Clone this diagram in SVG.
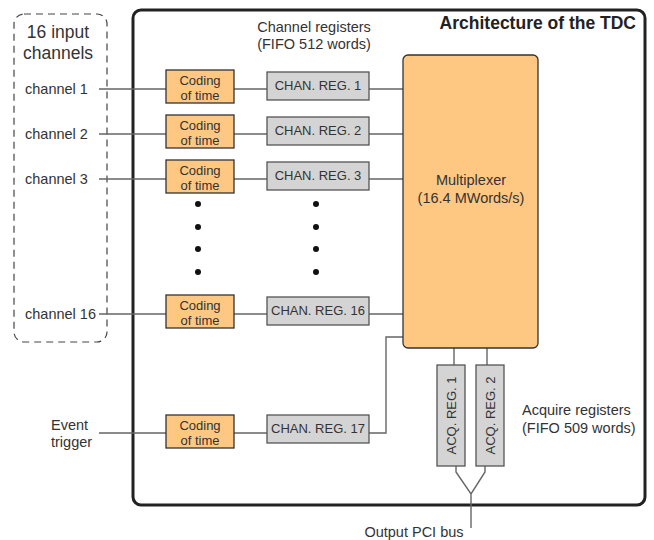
<svg xmlns="http://www.w3.org/2000/svg" width="654" height="540" viewBox="0 0 654 540">
<style>
text{font-family:"Liberation Sans",Arial,sans-serif;fill:#333}
.lbl{font-size:14.5px}
.sm{font-size:13px}
.code{fill:#FEC883;stroke:#333;stroke-width:1.3}
.reg{fill:#D4D4D4;stroke:#555;stroke-width:1.3}
.ln{fill:none;stroke:#666;stroke-width:1.4}
.dot{fill:#111}
</style>
<rect width="654" height="540" fill="#fff"/>
<g id="inputs-frame">
<rect x="14" y="14" width="93" height="328" rx="10" fill="none" stroke="#444" stroke-width="1.2" stroke-dasharray="7,5"/>
<text x="58" y="38" text-anchor="middle" style="font-size:17.5px">16 input</text>
<text x="58" y="59" text-anchor="middle" style="font-size:17.5px">channels</text>
</g>
<g id="tdc-frame">
<rect x="133" y="10" width="512" height="495" rx="8" fill="none" stroke="#222" stroke-width="3"/>
<text x="636" y="29" text-anchor="end" style="font-size:17.5px;font-weight:bold;fill:#222">Architecture of the TDC</text>
<text class="lbl" x="314" y="32" text-anchor="middle">Channel registers</text>
<text class="lbl" x="314" y="49" text-anchor="middle">(FIFO 512 words)</text>
<text class="lbl" x="522" y="415">Acquire registers</text>
<text class="lbl" x="522" y="433">(FIFO 509 words)</text>
</g>
<g id="connectors">
<path class="ln" d="M99 89H166M234 89H267M369 89H403"/>
<path class="ln" d="M99 134H166M234 134H267M369 134H403"/>
<path class="ln" d="M99 179H166M234 179H267M369 179H403"/>
<path class="ln" d="M99 314H166M234 314H267M369 314H403"/>
<path class="ln" d="M99 433H166M234 433H267M369 433H386V337H403"/>
<path class="ln" d="M454 348V365M487 348V365"/>
<path class="ln" d="M456 466V472L471 494L485 472V466M471 494V528"/>
</g>
<g id="labels">
<text class="lbl" x="25" y="94">channel 1</text>
<text class="lbl" x="25" y="139">channel 2</text>
<text class="lbl" x="25" y="184">channel 3</text>
<text class="lbl" x="25" y="319">channel 16</text>
<text class="lbl" x="51" y="430">Event</text>
<text class="lbl" x="51" y="447">trigger</text>
<text class="lbl" x="414" y="537" text-anchor="middle">Output PCI bus</text>
</g>
<g id="coding-1"><rect class="code" x="166" y="70" width="68" height="33"/><text class="sm" x="200" y="85" text-anchor="middle">Coding</text><text class="sm" x="200" y="100" text-anchor="middle">of time</text></g>
<g id="coding-2"><rect class="code" x="166" y="115" width="68" height="33"/><text class="sm" x="200" y="130" text-anchor="middle">Coding</text><text class="sm" x="200" y="145" text-anchor="middle">of time</text></g>
<g id="coding-3"><rect class="code" x="166" y="160" width="68" height="33"/><text class="sm" x="200" y="175" text-anchor="middle">Coding</text><text class="sm" x="200" y="190" text-anchor="middle">of time</text></g>
<g id="coding-16"><rect class="code" x="166" y="295" width="68" height="33"/><text class="sm" x="200" y="310" text-anchor="middle">Coding</text><text class="sm" x="200" y="325" text-anchor="middle">of time</text></g>
<g id="coding-17"><rect class="code" x="166" y="415" width="68" height="33"/><text class="sm" x="200" y="430" text-anchor="middle">Coding</text><text class="sm" x="200" y="445" text-anchor="middle">of time</text></g>
<g id="chanreg-1"><rect class="reg" x="267" y="72" width="102" height="28"/><text class="sm" x="318" y="90" text-anchor="middle">CHAN. REG. 1</text></g>
<g id="chanreg-2"><rect class="reg" x="267" y="117" width="102" height="28"/><text class="sm" x="318" y="135" text-anchor="middle">CHAN. REG. 2</text></g>
<g id="chanreg-3"><rect class="reg" x="267" y="162" width="102" height="28"/><text class="sm" x="318" y="180" text-anchor="middle">CHAN. REG. 3</text></g>
<g id="chanreg-16"><rect class="reg" x="267" y="297" width="102" height="28"/><text class="sm" x="318" y="315" text-anchor="middle">CHAN. REG. 16</text></g>
<g id="chanreg-17"><rect class="reg" x="267" y="415" width="102" height="28"/><text class="sm" x="318" y="433" text-anchor="middle">CHAN. REG. 17</text></g>
<g id="ellipsis">
<circle class="dot" cx="198" cy="204" r="3"/><circle class="dot" cx="198" cy="227" r="3"/><circle class="dot" cx="198" cy="249" r="3"/><circle class="dot" cx="198" cy="272" r="3"/>
<circle class="dot" cx="316" cy="204" r="3"/><circle class="dot" cx="316" cy="227" r="3"/><circle class="dot" cx="316" cy="249" r="3"/><circle class="dot" cx="316" cy="272" r="3"/>
</g>
<g id="multiplexer"><rect x="403" y="55" width="135" height="293" rx="5" fill="#FEC883" stroke="#333" stroke-width="1.3"/><text class="lbl" x="471" y="185" text-anchor="middle">Multiplexer</text><text class="lbl" x="471" y="203" text-anchor="middle">(16.4 MWords/s)</text></g>
<g id="acqreg-1"><rect class="reg" x="437" y="365" width="28" height="101"/><text class="sm" transform="translate(455.5,415.5) rotate(-90)" text-anchor="middle">ACQ. REG. 1</text></g>
<g id="acqreg-2"><rect class="reg" x="476" y="365" width="28" height="101"/><text class="sm" transform="translate(494.5,415.5) rotate(-90)" text-anchor="middle">ACQ. REG. 2</text></g>
</svg>
